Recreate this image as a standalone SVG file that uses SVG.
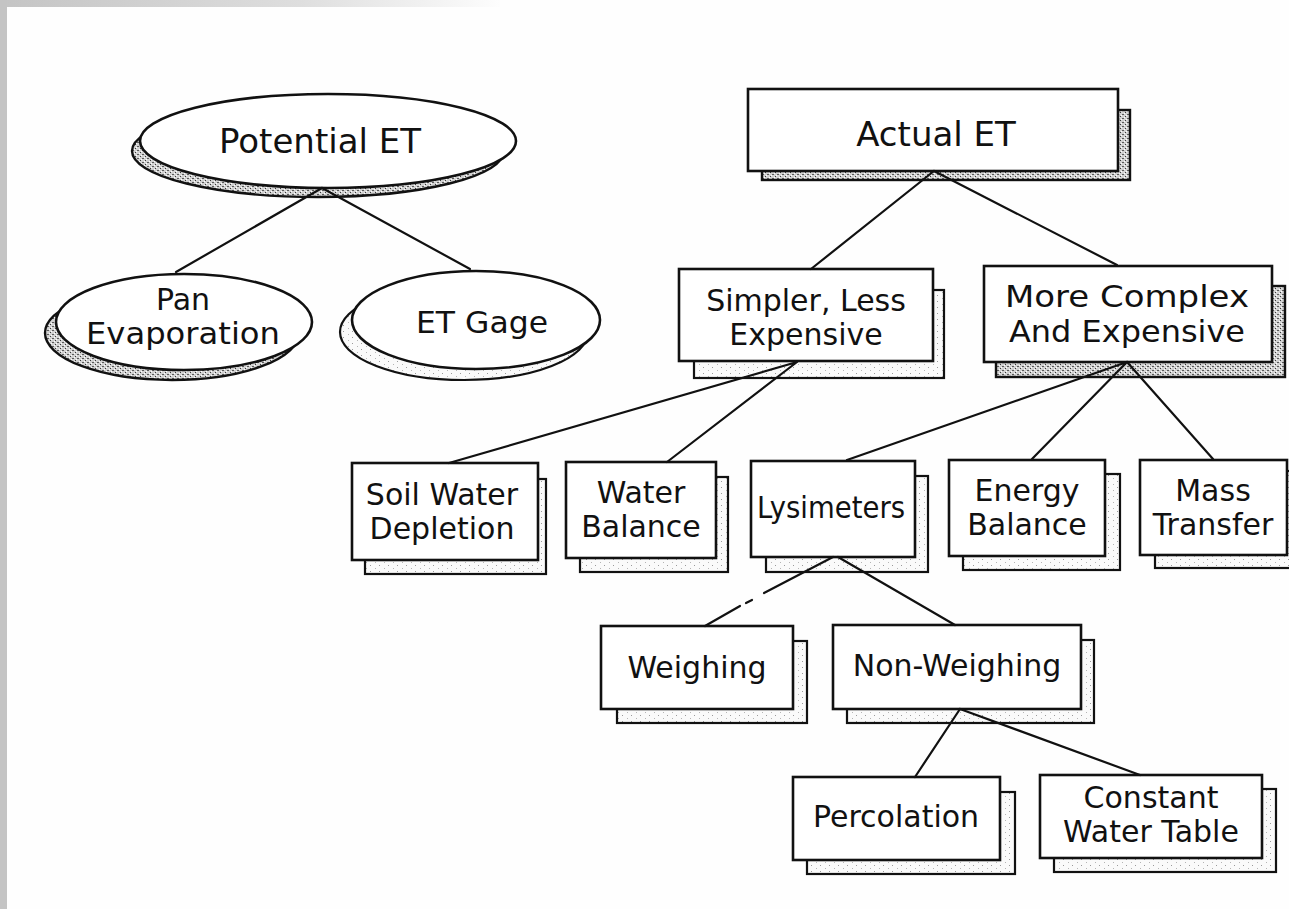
<svg xmlns="http://www.w3.org/2000/svg" width="1289" height="909" viewBox="0 0 1289 909">
  <style>
    .box { fill: #ffffff; stroke: #111111; stroke-width: 2.6; }
    .shadow { fill: url(#grainLight); stroke: #111111; stroke-width: 2.2; }
    .shadow-dark { fill: url(#grainDark); stroke: #111111; stroke-width: 2.4; }
    .link { stroke: #111111; stroke-width: 2.2; fill: none; stroke-linecap: round; }
    .label { font-family: "DejaVu Sans", "Liberation Sans", sans-serif; font-size: 30px; fill: #111111; text-anchor: middle; }
    .label-lg { font-size: 34px; }
  </style>
  <defs>
    <linearGradient id="topBand" x1="0" y1="0" x2="1" y2="0">
      <stop offset="0" stop-color="#c4c4c4"/>
      <stop offset="0.6" stop-color="#dedede"/>
      <stop offset="1" stop-color="#fdfdfd"/>
    </linearGradient>
    <pattern id="grainLight" width="9" height="6" patternUnits="userSpaceOnUse">
      <rect width="9" height="6" fill="#fafafa"/>
      <rect x="1" y="1" width="1" height="1" fill="#9a9a9a"/>
      <rect x="6" y="4" width="1" height="1" fill="#b4b4b4"/>
    </pattern>
    <pattern id="grainDark" width="5" height="4" patternUnits="userSpaceOnUse">
      <rect width="5" height="4" fill="#d2d2d2"/>
      <rect x="0" y="0" width="1" height="1" fill="#3a3a3a"/>
      <rect x="2" y="2" width="2" height="1" fill="#5a5a5a"/>
      <rect x="4" y="1" width="1" height="1" fill="#ffffff"/>
      <rect x="1" y="3" width="1" height="1" fill="#ffffff"/>
    </pattern>
  </defs>

  <!-- page background and slide edge bands -->
  <rect width="1289" height="909" fill="#fefefe"/>
  <rect x="0" y="0" width="500" height="7" fill="url(#topBand)"/>
  <rect x="0" y="0" width="7" height="909" fill="#c4c4c4"/>

  <!-- Potential ET branch -->
  <g id="potential-et">
    <ellipse class="shadow-dark" cx="318" cy="151" rx="186" ry="46"/>
    <ellipse class="box" cx="328" cy="141" rx="188" ry="47"/>
    <text class="label label-lg" x="320" y="153">Potential ET</text>
  </g>
  <g id="pan-evaporation">
    <ellipse class="shadow-dark" cx="172" cy="333" rx="127" ry="47"/>
    <ellipse class="box" cx="184" cy="322" rx="128" ry="48"/>
    <text class="label" x="183" y="310">Pan</text>
    <text class="label" x="183" y="344" textLength="194" lengthAdjust="spacingAndGlyphs">Evaporation</text>
  </g>
  <g id="et-gage">
    <ellipse class="shadow" cx="464" cy="332" rx="124" ry="48"/>
    <ellipse class="box" cx="476" cy="320" rx="124" ry="49"/>
    <text class="label" x="482" y="333" textLength="132" lengthAdjust="spacingAndGlyphs">ET Gage</text>
  </g>

  <!-- Actual ET branch -->
  <g id="actual-et">
    <rect class="shadow-dark" x="762" y="110" width="368" height="70"/>
    <rect class="box" x="748" y="89" width="370" height="82"/>
    <text class="label label-lg" x="936" y="146">Actual ET</text>
  </g>
  <g id="simpler-less-expensive">
    <rect class="shadow" x="694" y="290" width="250" height="88"/>
    <rect class="box" x="679" y="269" width="254" height="92"/>
    <text class="label" x="806" y="311">Simpler, Less</text>
    <text class="label" x="806" y="345">Expensive</text>
  </g>
  <g id="more-complex-expensive">
    <rect class="shadow-dark" x="996" y="286" width="289" height="91"/>
    <rect class="box" x="984" y="266" width="288" height="96"/>
    <text class="label" x="1127" y="307" textLength="244" lengthAdjust="spacingAndGlyphs">More Complex</text>
    <text class="label" x="1127" y="342" textLength="236" lengthAdjust="spacingAndGlyphs">And Expensive</text>
  </g>

  <!-- methods -->
  <g id="soil-water-depletion">
    <rect class="shadow" x="365" y="479" width="181" height="95"/>
    <rect class="box" x="352" y="463" width="186" height="97"/>
    <text class="label" x="442" y="505">Soil Water</text>
    <text class="label" x="442" y="539">Depletion</text>
  </g>
  <g id="water-balance">
    <rect class="shadow" x="580" y="477" width="148" height="95"/>
    <rect class="box" x="566" y="462" width="150" height="96"/>
    <text class="label" x="641" y="503">Water</text>
    <text class="label" x="641" y="537">Balance</text>
  </g>
  <g id="lysimeters">
    <rect class="shadow" x="766" y="476" width="162" height="96"/>
    <rect class="box" x="751" y="461" width="164" height="96"/>
    <text class="label" x="831" y="518" textLength="148" lengthAdjust="spacingAndGlyphs">Lysimeters</text>
  </g>
  <g id="energy-balance">
    <rect class="shadow" x="963" y="474" width="157" height="96"/>
    <rect class="box" x="949" y="460" width="156" height="96"/>
    <text class="label" x="1027" y="501">Energy</text>
    <text class="label" x="1027" y="535">Balance</text>
  </g>
  <g id="mass-transfer">
    <rect class="shadow" x="1155" y="471" width="140" height="97"/>
    <rect class="box" x="1140" y="460" width="147" height="95"/>
    <text class="label" x="1213" y="501">Mass</text>
    <text class="label" x="1213" y="535">Transfer</text>
  </g>

  <!-- lysimeter types -->
  <g id="weighing">
    <rect class="shadow" x="617" y="641" width="190" height="82"/>
    <rect class="box" x="601" y="626" width="192" height="83"/>
    <text class="label" x="697" y="678">Weighing</text>
  </g>
  <g id="non-weighing">
    <rect class="shadow" x="847" y="640" width="247" height="83"/>
    <rect class="box" x="833" y="625" width="248" height="84"/>
    <text class="label" x="957" y="676">Non-Weighing</text>
  </g>
  <g id="percolation">
    <rect class="shadow" x="807" y="792" width="208" height="82"/>
    <rect class="box" x="793" y="777" width="207" height="83"/>
    <text class="label" x="896" y="827">Percolation</text>
  </g>
  <g id="constant-water-table">
    <rect class="shadow" x="1054" y="789" width="222" height="83"/>
    <rect class="box" x="1040" y="775" width="222" height="83"/>
    <text class="label" x="1151" y="808">Constant</text>
    <text class="label" x="1151" y="842">Water Table</text>
  </g>

  <!-- connectors, drawn over the shadows from each parent's lower edge -->
  <g id="connectors">
    <path class="link" d="M322,188 L176,272 M322,188 L470,269"/>
    <path class="link" d="M934,171 L811,269 M934,171 L1117,265"/>
    <path class="link" d="M797,362 L449,463 M797,362 L667,462"/>
    <path class="link" d="M1127,362 L847,460 M1127,362 L1032,459 M1127,362 L1213,459"/>
    <path class="link" d="M833,557 L764,593 M752,600 L746,603 M740,606 L705,626 M838,557 L955,625"/>
    <path class="link" d="M960,709 L915,777 M960,709 L1140,775"/>
  </g>
</svg>
